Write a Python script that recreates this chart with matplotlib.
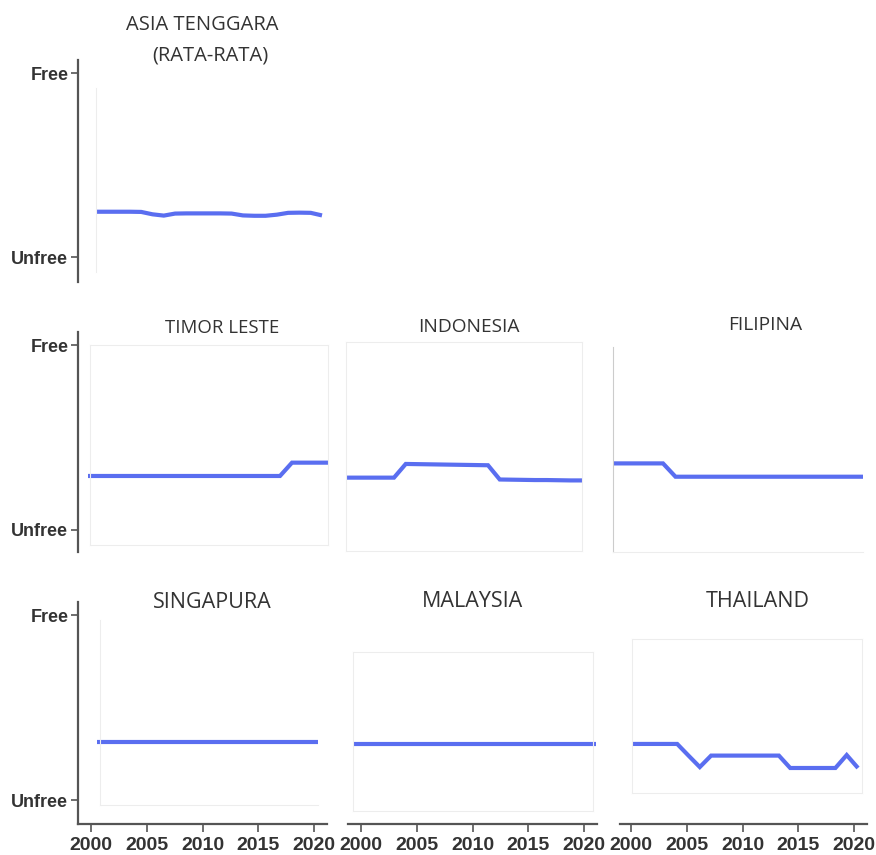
import matplotlib
matplotlib.use("Agg")
import matplotlib.pyplot as plt

W, H = 876, 855

years = list(range(2000, 2021))

asia = [0.246, 0.246, 0.246, 0.246, 0.245, 0.232, 0.225, 0.236, 0.237, 0.237, 0.237,
        0.237, 0.236, 0.226, 0.224, 0.224, 0.230, 0.240, 0.241, 0.240, 0.226]
timor = [0.292, 0.292, 0.292, 0.292, 0.292, 0.292, 0.292, 0.292, 0.292, 0.292, 0.292,
         0.292, 0.292, 0.292, 0.292, 0.292, 0.292, 0.364, 0.364, 0.364, 0.364]
indonesia = [0.283, 0.283, 0.283, 0.283, 0.283, 0.357, 0.356, 0.355, 0.354, 0.353, 0.352,
             0.351, 0.350, 0.273, 0.272, 0.271, 0.270, 0.270, 0.269, 0.268, 0.268]
filipina = [0.360, 0.360, 0.360, 0.360, 0.360, 0.288, 0.288, 0.288, 0.288, 0.288, 0.288,
            0.288, 0.288, 0.288, 0.288, 0.288, 0.288, 0.288, 0.288, 0.288, 0.288]
singapura = [0.313, 0.313, 0.313, 0.313, 0.313, 0.313, 0.313, 0.313, 0.313, 0.313, 0.313,
             0.313, 0.313, 0.313, 0.313, 0.313, 0.313, 0.313, 0.313, 0.313, 0.313]
malaysia = [0.301, 0.301, 0.301, 0.301, 0.301, 0.301, 0.301, 0.301, 0.301, 0.301, 0.301,
            0.301, 0.301, 0.301, 0.301, 0.301, 0.301, 0.301, 0.301, 0.301, 0.301]
thailand = [0.303, 0.303, 0.303, 0.303, 0.303, 0.240, 0.178, 0.240, 0.240, 0.240, 0.240,
            0.240, 0.240, 0.240, 0.173, 0.173, 0.173, 0.173, 0.173, 0.243, 0.173]

y_ticks = [0, 1]
y_labels = ["Unfree", "Free"]
x_ticks = [2000, 2005, 2010, 2015, 2020]

LINE = "#5a6ef0"
AXC = "#555555"
FRAME = "#ededed"
TXT = "#333333"

# per row: pixel y of "Free", pixel y of "Unfree", spine top, spine bottom
rows = [(73, 257, 60, 282), (345, 530, 332, 552), (615, 800, 602, 824)]

# panels: title lines, row, values, x px of 2000/2020, frame (l, t, r, b), visible frame sides
panels = [
    (["ASIA TENGGARA", "(RATA-RATA)"], 0, asia, (96, 322), (96, 88, 322, 272), "l"),
    (["TIMOR LESTE"], 1, timor, (88, 328), (90, 345, 328, 545), "ltrb"),
    (["INDONESIA"], 1, indonesia, (347, 582), (346, 342, 582, 551), "ltrb"),
    (["FILIPINA"], 1, filipina, (613, 863), (613, 347, 863, 552), "lb"),
    (["SINGAPURA"], 2, singapura, (97, 318), (100, 620, 318, 805), "lb"),
    (["MALAYSIA"], 2, malaysia, (353, 596), (353, 652, 593, 811), "ltrb"),
    (["THAILAND"], 2, thailand, (632, 858), (632, 639, 862, 793), "ltrb"),
]

# title text: (x centre, y centre, size) per line
titles = [
    [(202, 25, 14.5), (210, 55, 14.5)],
    [(222, 328, 13.4)],
    [(469, 327, 13.8)],
    [(765, 325, 13.8)],
    [(212, 602, 15.5)],
    [(473, 601, 15.5)],
    [(758, 601, 15.5)],
]

# bottom year axes: (spine left, spine right, px of 2000, px of 2020)
x_axes = [(78, 327, 91, 314), (348, 597, 361, 584), (620, 867, 631, 854)]
x_axis_y = 824


def rect(l, t, r, b):
    return [l / W, 1 - b / H, (r - l) / W, (b - t) / H]


def ylim_for(row, t, b):
    yf, yu = rows[row][0], rows[row][1]
    s = yu - yf
    return (yu - b) / s, (yu - t) / s


def xlim_for(px0, px1, l, r):
    ppy = (px1 - px0) / 20
    return 2000 + (l - px0) / ppy, 2000 + (r - px0) / ppy


fig = plt.figure(figsize=(W / 100, H / 100), dpi=100)
fig.patch.set_facecolor("white")

for (names, row, vals, (px0, px1), (l, t, r, b), sides), tl in zip(panels, titles):
    ax = fig.add_axes(rect(l, t, r, b))
    ax.set_facecolor("none")
    ax.plot(years, vals, color=LINE, lw=3.0, solid_capstyle="butt",
            solid_joinstyle="miter", clip_on=False)
    ax.set_xlim(*xlim_for(px0, px1, l, r))
    ax.set_ylim(*ylim_for(row, t, b))
    ax.set_xticks([])
    ax.set_yticks([])
    for key, side in zip("ltrb", ["left", "top", "right", "bottom"]):
        ax.spines[side].set_visible(key in sides)
        ax.spines[side].set_color(FRAME)
        ax.spines[side].set_linewidth(0.8)
    if names[0] == "FILIPINA":
        ax.spines["left"].set_color("#cccccc")
    for name, (cx, cy, fs) in zip(names, tl):
        fig.text(cx / W, 1 - cy / H, name, ha="center", va="center",
                 fontsize=fs, family="Open Sans", color=TXT)

# Free / Unfree scale for each row
for yf, yu, st, sb in rows:
    ax = fig.add_axes(rect(78, st, 79, sb))
    ax.set_facecolor("none")
    s = yu - yf
    ax.set_ylim((yu - sb) / s, (yu - st) / s)
    ax.set_xticks([])
    ax.set_yticks(y_ticks)
    ax.set_yticklabels(y_labels, family="Liberation Sans", fontsize=13,
                       fontweight="bold", color="#333333")
    ax.tick_params(axis="y", length=5, width=1.2, color=AXC, pad=2)
    for side in ["top", "right", "bottom"]:
        ax.spines[side].set_visible(False)
    ax.spines["left"].set_color(AXC)
    ax.spines["left"].set_linewidth(1.6)

# year axes under the last row
for l, r, px0, px1 in x_axes:
    ax = fig.add_axes(rect(l, x_axis_y - 1, r, x_axis_y))
    ax.set_facecolor("none")
    ax.set_xlim(*xlim_for(px0, px1, l, r))
    ax.set_yticks([])
    ax.set_xticks(x_ticks)
    ax.set_xticklabels([str(v) for v in x_ticks], family="Liberation Sans",
                       fontsize=14, fontweight="bold", color="#333333")
    ax.tick_params(axis="x", length=6, width=1.2, color=AXC, pad=3)
    for side in ["top", "right", "left"]:
        ax.spines[side].set_visible(False)
    ax.spines["bottom"].set_color(AXC)
    ax.spines["bottom"].set_linewidth(1.6)

fig.savefig("out.png", dpi=100, facecolor="white")
